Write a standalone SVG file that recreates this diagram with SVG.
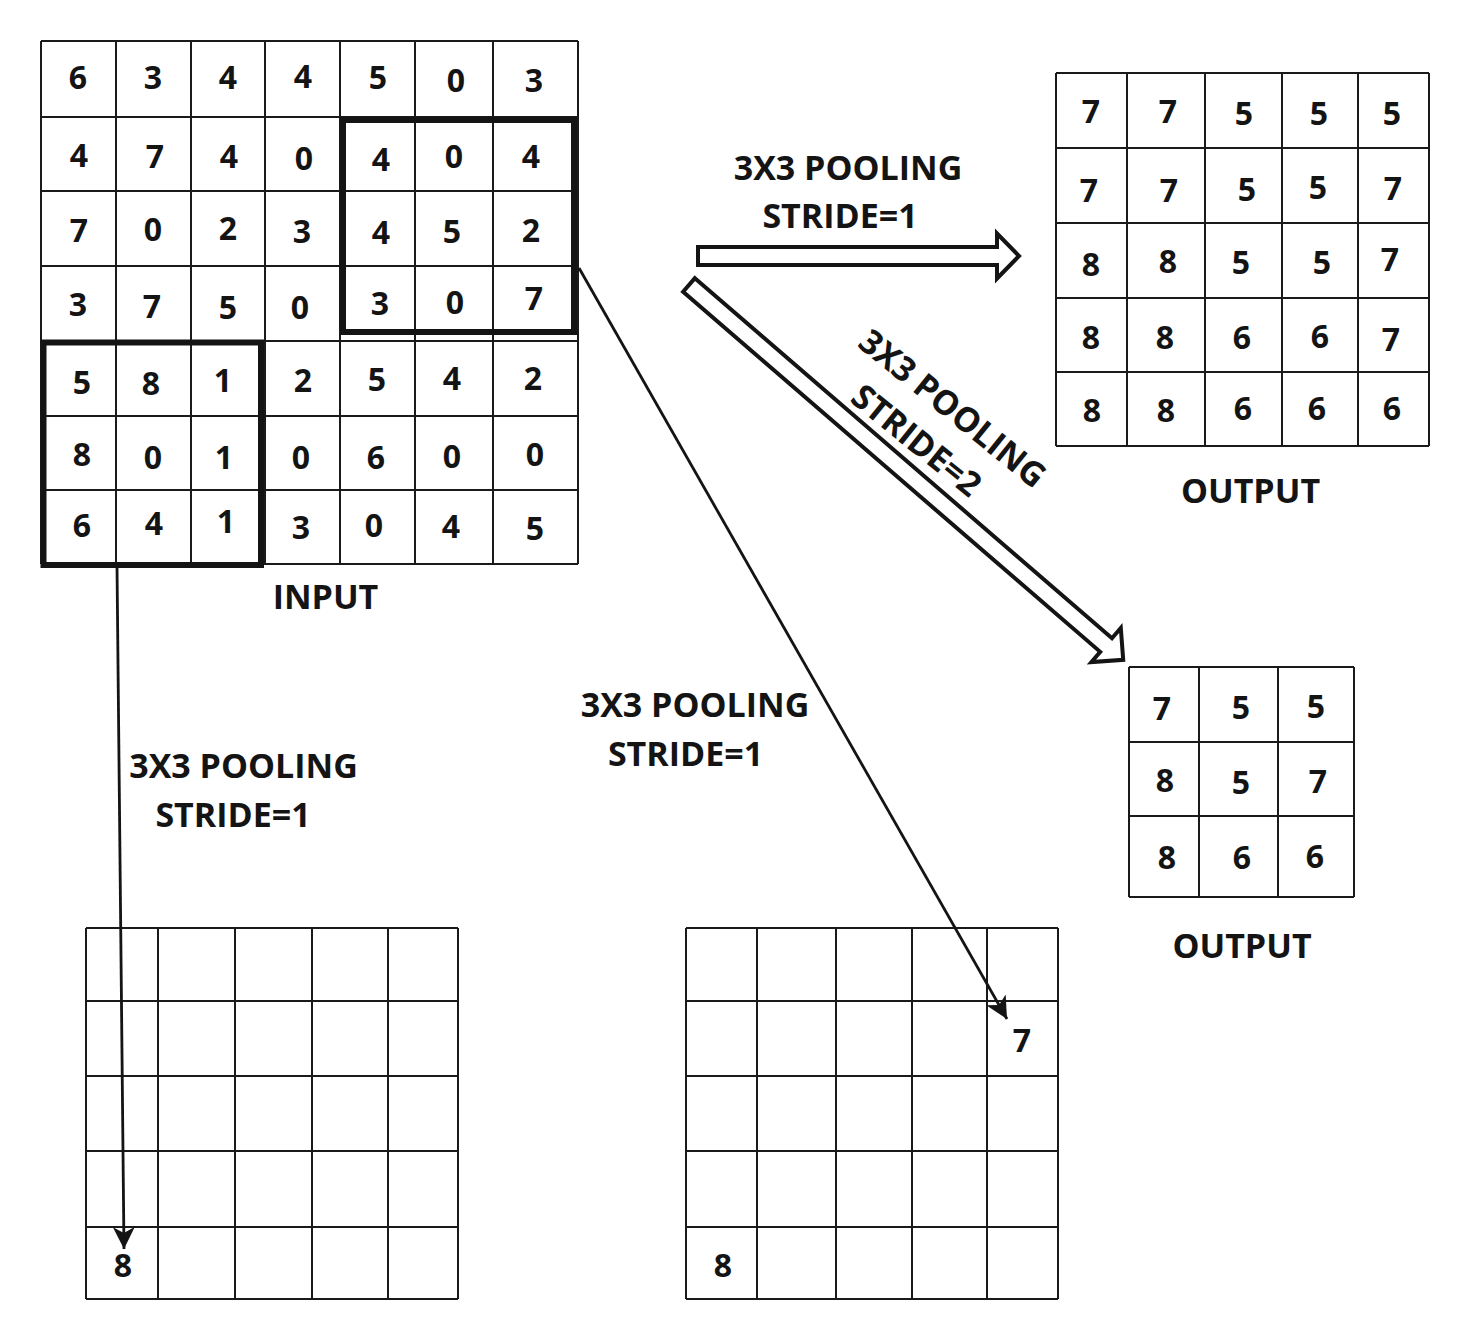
<svg xmlns="http://www.w3.org/2000/svg" width="1484" height="1340" viewBox="0 0 1484 1340">
<defs>
<style>
.grid{fill:none;stroke:#1a1a1a;stroke-width:2}
.bold{fill:none;stroke:#141414;stroke-width:6}
.d{font-family:"Open Sans",Lato,"Liberation Sans",sans-serif;font-weight:700;font-size:32px;fill:#141414;text-anchor:middle}
.l{font-family:"Open Sans",Lato,"Liberation Sans",sans-serif;font-weight:700;font-size:34px;fill:#141414;text-anchor:middle}
.thin{fill:none;stroke:#141414;stroke-width:2.8}
.hollow{fill:#fff;stroke:#141414;stroke-width:4;stroke-linejoin:miter}
</style>
<marker id="ah" markerUnits="userSpaceOnUse" viewBox="0 0 22 22" markerWidth="22" markerHeight="22" refX="22" refY="11" orient="auto">
<path d="M0,0 L22,11 L0,22 L6,11 Z" fill="#141414"/>
</marker>
</defs>
<rect width="1484" height="1340" fill="#fff"/>

<g id="input-grid">
<path class="grid" d="M41,41H578M41,117H578M41,191H578M41,266H578M41,341H578M41,416H578M41,490H578M41,564H578M41,41V564M116,41V564M191,41V564M265,41V564M340,41V564M415,41V564M493,41V564M578,41V564"/>
<rect class="bold" x="343" y="120" width="231" height="212"/>
<rect class="bold" x="43.5" y="342.5" width="217.5" height="222.5"/>
<g>
<text class="d" x="78" y="89">6</text><text class="d" x="153" y="89">3</text><text class="d" x="228" y="89">4</text><text class="d" x="303" y="88">4</text><text class="d" x="378" y="89">5</text><text class="d" x="456" y="92">0</text><text class="d" x="534" y="92">3</text>
<text class="d" x="79" y="167">4</text><text class="d" x="155" y="168">7</text><text class="d" x="229" y="168">4</text><text class="d" x="304" y="170">0</text><text class="d" x="381" y="171">4</text><text class="d" x="454" y="168">0</text><text class="d" x="531" y="168">4</text>
<text class="d" x="79" y="242">7</text><text class="d" x="153" y="241">0</text><text class="d" x="228" y="240">2</text><text class="d" x="302" y="243">3</text><text class="d" x="381" y="244">4</text><text class="d" x="452" y="243">5</text><text class="d" x="531" y="242">2</text>
<text class="d" x="78" y="316">3</text><text class="d" x="152" y="318">7</text><text class="d" x="228" y="319">5</text><text class="d" x="300" y="319">0</text><text class="d" x="380" y="315">3</text><text class="d" x="455" y="314">0</text><text class="d" x="534" y="310">7</text>
<text class="d" x="82" y="394">5</text><text class="d" x="151" y="395">8</text><text class="d" x="223" y="392">1</text><text class="d" x="303" y="392">2</text><text class="d" x="377" y="391">5</text><text class="d" x="452" y="390">4</text><text class="d" x="533" y="390">2</text>
<text class="d" x="82" y="466">8</text><text class="d" x="153" y="469">0</text><text class="d" x="224" y="469">1</text><text class="d" x="301" y="469">0</text><text class="d" x="376" y="469">6</text><text class="d" x="452" y="468">0</text><text class="d" x="535" y="466">0</text>
<text class="d" x="82" y="537">6</text><text class="d" x="154" y="535">4</text><text class="d" x="226" y="533">1</text><text class="d" x="301" y="539">3</text><text class="d" x="374" y="537">0</text><text class="d" x="451" y="538">4</text><text class="d" x="535" y="540">5</text>
</g>
<text class="l" x="325.5" y="609">INPUT</text>
</g>

<g id="output-stride1">
<path class="grid" d="M1056,73H1429M1056,148H1429M1056,223H1429M1056,298H1429M1056,372H1429M1056,446H1429M1056,73V446M1127,73V446M1205,73V446M1282,73V446M1358,73V446M1429,73V446"/>
<text class="d" x="1091" y="123">7</text><text class="d" x="1168" y="123">7</text><text class="d" x="1244" y="125">5</text><text class="d" x="1319" y="125">5</text><text class="d" x="1392" y="125">5</text>
<text class="d" x="1089" y="202">7</text><text class="d" x="1169" y="202">7</text><text class="d" x="1247" y="201">5</text><text class="d" x="1318" y="199">5</text><text class="d" x="1393" y="200">7</text>
<text class="d" x="1091" y="276">8</text><text class="d" x="1168" y="273">8</text><text class="d" x="1241" y="274">5</text><text class="d" x="1322" y="274">5</text><text class="d" x="1390" y="271">7</text>
<text class="d" x="1091" y="349">8</text><text class="d" x="1165" y="349">8</text><text class="d" x="1242" y="349">6</text><text class="d" x="1320" y="348">6</text><text class="d" x="1391" y="351">7</text>
<text class="d" x="1092" y="422">8</text><text class="d" x="1166" y="422">8</text><text class="d" x="1243" y="420">6</text><text class="d" x="1317" y="420">6</text><text class="d" x="1392" y="420">6</text>
<text class="l" x="1250.5" y="503">OUTPUT</text>
</g>

<g id="output-stride2">
<path class="grid" d="M1129,667H1354M1129,742H1354M1129,816H1354M1129,897H1354M1129,667V897M1199,667V897M1278,667V897M1354,667V897"/>
<text class="d" x="1162" y="720">7</text><text class="d" x="1241" y="719">5</text><text class="d" x="1316" y="718">5</text>
<text class="d" x="1165" y="792">8</text><text class="d" x="1241" y="794">5</text><text class="d" x="1318" y="793">7</text>
<text class="d" x="1167" y="869">8</text><text class="d" x="1242" y="869">6</text><text class="d" x="1315" y="868">6</text>
<text class="l" x="1242" y="958">OUTPUT</text>
</g>

<g id="empty-grid-left">
<path class="grid" d="M86,928H458M86,1001H458M86,1076H458M86,1151H458M86,1227H458M86,1299H458M86,928V1299M158,928V1299M235,928V1299M312,928V1299M388,928V1299M458,928V1299"/>
<text class="d" x="123" y="1277">8</text>
</g>

<g id="empty-grid-right">
<path class="grid" d="M686,928H1058M686,1001H1058M686,1076H1058M686,1151H1058M686,1227H1058M686,1299H1058M686,928V1299M757,928V1299M836,928V1299M912,928V1299M987,928V1299M1058,928V1299"/>
<text class="d" x="1022" y="1052">7</text>
<text class="d" x="723" y="1277">8</text>
</g>

<g id="labels">
<text class="l" x="848" y="180">3X3 POOLING</text>
<text class="l" x="840" y="228">STRIDE=1</text>
<text class="l" x="243.5" y="778">3X3 POOLING</text>
<text class="l" x="233" y="827">STRIDE=1</text>
<text class="l" x="695" y="717">3X3 POOLING</text>
<text class="l" x="685.5" y="766">STRIDE=1</text>
<g transform="translate(953,408) rotate(39)"><text class="l" x="0" y="12.5">3X3 POOLING</text></g>
<g transform="translate(917,440) rotate(39)"><text class="l" x="0" y="12.5">STRIDE=2</text></g>
</g>

<g id="connectors">
<path class="hollow" d="M698,247H997V233.5L1019,256L997,278.5V265H698Z"/>
<path class="hollow" transform="translate(689,285) rotate(40.8)" d="M0,-9H551V-22.5L573.6,0L551,22.5V9H0Z"/>
<line class="thin" x1="117" y1="566" x2="124" y2="1249" marker-end="url(#ah)"/>
<line class="thin" x1="579" y1="268" x2="1007" y2="1019" marker-end="url(#ah)"/>
</g>
</svg>
